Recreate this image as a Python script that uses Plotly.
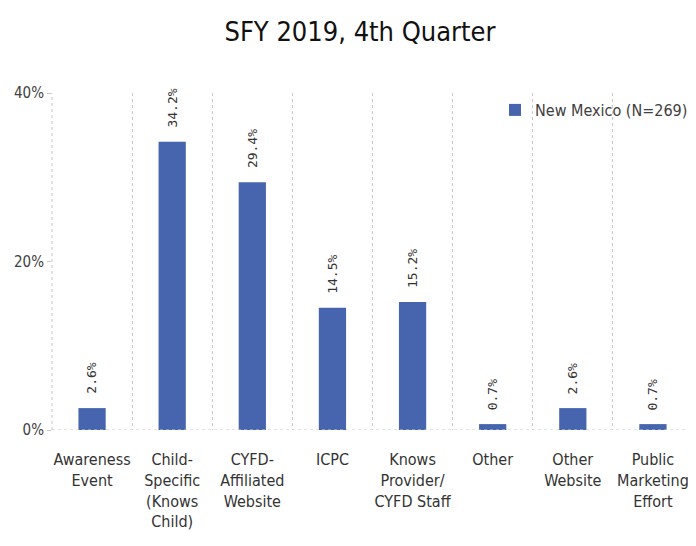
import plotly.graph_objects as go

categories = [
    "Awareness<br>Event",
    "Child-<br>Specific<br>(Knows<br>Child)",
    "CYFD-<br>Affiliated<br>Website",
    "ICPC",
    "Knows<br>Provider/<br>CYFD Staff",
    "Other",
    "Other<br>Website",
    "Public<br>Marketing<br>Effort",
]
values = [2.6, 34.2, 29.4, 14.5, 15.2, 0.7, 2.6, 0.7]
series_name = "New Mexico (N=269)"
y_ticks = [0, 20, 40]
y_tick_labels = ["0%", "20%", "40%"]

BAR = "#4764AE"
GRID = "#c8c8c8"
LABEL_FONT = "DejaVu Sans Condensed, Liberation Sans Narrow, sans-serif"

fig = go.Figure()
fig.add_trace(go.Bar(
    x=categories, y=values, name=series_name,
    marker=dict(color=BAR, line=dict(width=0)),
    showlegend=True,
))

for c, v in zip(categories, values):
    fig.add_annotation(
        x=c, y=v, xref="x", yref="y",
        text=f"{v:.1f}%", showarrow=False, textangle=-90,
        yanchor="bottom", xanchor="center", yshift=12,
        font=dict(family="DejaVu Sans Mono, Liberation Mono, monospace", size=13, color="#333333"),
    )

# dotted baseline and plot-edge lines
fig.add_shape(type="line", xref="paper", yref="y", x0=0, x1=1, y0=0, y1=0,
              line=dict(color=GRID, width=1, dash="dot"))
for xp in (0, 1):
    fig.add_shape(type="line", xref="paper", yref="paper", x0=xp, x1=xp, y0=0, y1=1,
                  line=dict(color=GRID, width=1, dash="dot"))

fig.update_layout(
    width=688, height=538,
    margin=dict(l=44, r=3, t=85, b=116),
    paper_bgcolor="white", plot_bgcolor="white",
    title=dict(text="SFY 2019, 4th Quarter", x=352 / 688, xanchor="center",
               y=1 - 24 / 538, yanchor="middle",
               font=dict(family="DejaVu Sans Condensed, Liberation Sans Narrow, sans-serif",
                         size=27, color="#111111")),
    bargap=0.66,
    showlegend=True,
    legend=dict(x=1.0, xanchor="right", y=1.0, yanchor="top", bgcolor="rgba(0,0,0,0)",
                font=dict(family=LABEL_FONT, size=16, color="#404040"),
                itemwidth=30),
    xaxis=dict(
        tickson="boundaries", showgrid=True, gridcolor=GRID, griddash="dot", gridwidth=1,
        ticks="", ticklabelstandoff=18, automargin=False,
        showline=False, zeroline=False,
        tickfont=dict(family=LABEL_FONT, size=16, color="#333333"),
        tickangle=0,
    ),
    yaxis=dict(
        range=[0, 40], tickvals=y_ticks, ticktext=y_tick_labels, automargin=False,
        showgrid=False, zeroline=False, showline=False,
        ticks="outside", ticklen=4, tickcolor=GRID, ticklabelstandoff=0,
        tickfont=dict(family=LABEL_FONT, size=15, color="#404040"),
    ),
)

fig.write_html("out.html")
